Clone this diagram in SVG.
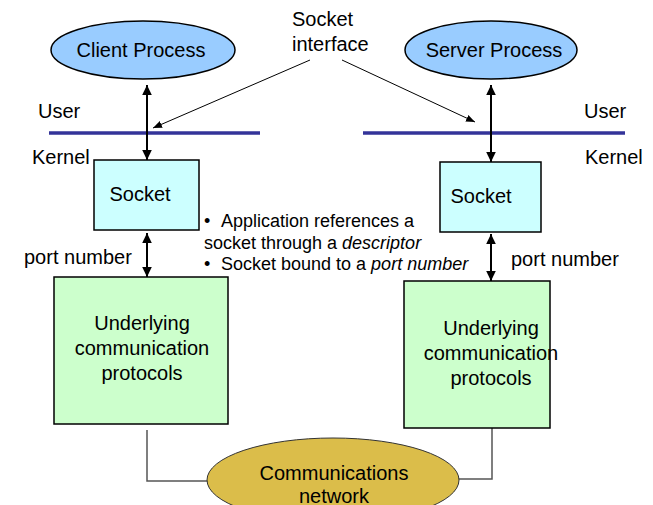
<svg xmlns="http://www.w3.org/2000/svg" width="653" height="505" viewBox="0 0 653 505">
  <style>
    text { font-family: "Liberation Sans", Arial, sans-serif; fill: #000; }
    .t20 { font-size: 20px; }
    .t18 { font-size: 18px; }
    .mid { text-anchor: middle; }
    .proc { fill: #99CCFF; stroke: #000; stroke-width: 1.5; }
    .sock { fill: #CCFFFF; stroke: #000; stroke-width: 1.5; }
    .proto { fill: #CCFFCC; stroke: #000; stroke-width: 1.5; }
    .net { fill: #DBBD4A; stroke: #333; stroke-width: 1; }
    .divider { stroke: #333399; stroke-width: 3.5; }
    .dbl { stroke: #000; stroke-width: 2; fill: none; marker-start: url(#headStart); marker-end: url(#headEnd); }
    .ptr { stroke: #000; stroke-width: 1; fill: none; marker-end: url(#ptrHead); }
    .wire { stroke: #555; stroke-width: 1.5; fill: none; }
  </style>
  <defs>
    <marker id="headEnd" viewBox="0 0 10 10" refX="10" refY="5" markerWidth="5" markerHeight="6" orient="auto" markerUnits="strokeWidth" preserveAspectRatio="none">
      <path d="M0,1 L10,5 L0,9 z" fill="#000"/>
    </marker>
    <marker id="headStart" viewBox="0 0 10 10" refX="0" refY="5" markerWidth="5" markerHeight="6" orient="auto" markerUnits="strokeWidth" preserveAspectRatio="none">
      <path d="M10,1 L0,5 L10,9 z" fill="#000"/>
    </marker>
    <marker id="ptrHead" viewBox="0 0 10 10" refX="10" refY="5" markerWidth="9" markerHeight="9" orient="auto" markerUnits="strokeWidth">
      <path d="M0,1 L10,5 L0,9 z" fill="#000"/>
    </marker>
  </defs>

  <!-- user / kernel boundary -->
  <line class="divider" x1="49" y1="133" x2="260" y2="133"/>
  <line class="divider" x1="363" y1="133" x2="625" y2="133"/>
  <text class="t20" x="38" y="118">User</text>
  <text class="t20" x="32" y="164">Kernel</text>
  <text class="t20" x="584" y="118">User</text>
  <text class="t20" x="585" y="164">Kernel</text>

  <!-- connectors -->
  <g id="connectors">
    <line class="dbl" x1="147" y1="85" x2="147" y2="160"/>
    <line class="dbl" x1="491" y1="85" x2="491" y2="162"/>
    <line class="dbl" x1="147" y1="233" x2="147" y2="277"/>
    <line class="dbl" x1="491" y1="234" x2="491" y2="281"/>
    <line class="ptr" x1="310" y1="60" x2="153" y2="128"/>
    <line class="ptr" x1="342" y1="60" x2="475" y2="122"/>
    <polyline class="wire" points="147,430 147,481 208,481"/>
    <polyline class="wire" points="492,428 492,479 458,479"/>
  </g>

  <!-- label for the socket interface -->
  <text class="t20" x="292" y="26">Socket</text>
  <text class="t20" x="292" y="51">interface</text>

  <g id="client-process">
    <ellipse class="proc" cx="143" cy="50" rx="92" ry="29"/>
    <text class="t20 mid" x="141" y="57">Client Process</text>
  </g>

  <g id="server-process">
    <ellipse class="proc" cx="491" cy="50" rx="86" ry="29"/>
    <text class="t20 mid" x="494" y="57">Server Process</text>
  </g>

  <g id="client-socket">
    <rect class="sock" x="94" y="160" width="105" height="70"/>
    <text class="t20 mid" x="140" y="201">Socket</text>
  </g>

  <g id="server-socket">
    <rect class="sock" x="440" y="162" width="101" height="70"/>
    <text class="t20 mid" x="481" y="203">Socket</text>
  </g>

  <text class="t20" x="24" y="264">port number</text>
  <text class="t20" x="511" y="266">port number</text>

  <!-- notes -->
  <text class="t18" y="227"><tspan x="204">•</tspan><tspan x="221">Application references a</tspan></text>
  <text class="t18" x="204" y="249">socket through a <tspan font-style="italic">descriptor</tspan></text>
  <text class="t18" y="270"><tspan x="204">•</tspan><tspan x="221">Socket bound to a </tspan><tspan font-style="italic">port number</tspan></text>

  <g id="client-protocols">
    <rect class="proto" x="54" y="277" width="174" height="147"/>
    <text class="t20 mid" x="142" y="330">Underlying</text>
    <text class="t20 mid" x="142" y="355">communication</text>
    <text class="t20 mid" x="142" y="380">protocols</text>
  </g>

  <g id="server-protocols">
    <rect class="proto" x="404" y="281" width="146" height="147"/>
    <text class="t20 mid" x="491" y="335">Underlying</text>
    <text class="t20 mid" x="491" y="360">communication</text>
    <text class="t20 mid" x="491" y="385">protocols</text>
  </g>

  <g id="network">
    <ellipse class="net" cx="333" cy="480" rx="126" ry="42"/>
    <text class="t20 mid" x="334" y="480">Communications</text>
    <text class="t20 mid" x="334" y="503">network</text>
  </g>
</svg>
